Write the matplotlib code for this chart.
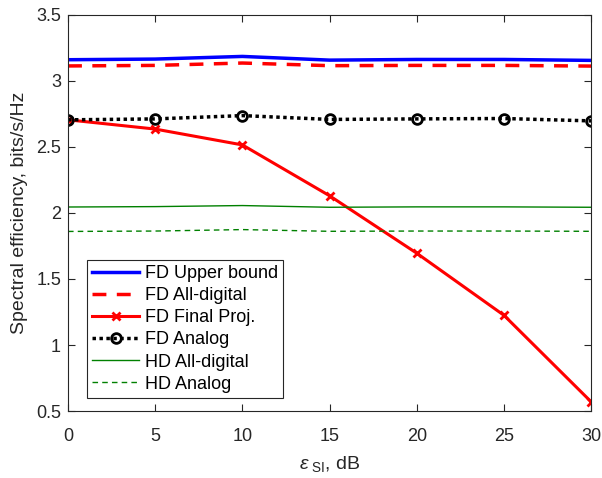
import matplotlib.pyplot as plt

plt.rcParams['font.family'] = ['Liberation Sans', 'DejaVu Sans']
plt.rcParams['mathtext.fontset'] = 'custom'
plt.rcParams['mathtext.rm'] = 'Liberation Sans'
plt.rcParams['mathtext.it'] = 'Liberation Sans:italic'

eps_si = [0, 5, 10, 15, 20, 25, 30]
fd_upper = [3.16, 3.165, 3.185, 3.157, 3.162, 3.162, 3.155]
fd_digital = [3.113, 3.117, 3.135, 3.115, 3.117, 3.117, 3.112]
fd_final = [2.705, 2.635, 2.515, 2.13, 1.695, 1.225, 0.57]
fd_analog = [2.705, 2.712, 2.737, 2.708, 2.712, 2.715, 2.697]
hd_digital = [2.045, 2.048, 2.056, 2.043, 2.046, 2.046, 2.043]
hd_analog = [1.86, 1.863, 1.874, 1.861, 1.863, 1.863, 1.861]

fig = plt.figure(figsize=(6.02, 4.78), dpi=100)
ax = fig.add_axes([0.113, 0.140, 0.869, 0.829])

ax.plot(eps_si, fd_upper, color='b', lw=2.5, label='FD Upper bound')
ax.plot(eps_si, fd_digital, color='r', lw=2.5, ls=(0, (4, 3)), label='FD All-digital')
ax.plot(eps_si, fd_final, color='r', lw=2.2, marker='x', ms=6, mew=2, label='FD Final Proj.')
ax.plot(eps_si, fd_analog, color='k', lw=2.5, ls=(0, (1, 1)), marker='o', ms=7,
        mfc='none', mew=2, label='FD Analog')
ax.plot(eps_si, hd_digital, color='g', lw=1, label='HD All-digital')
ax.plot(eps_si, hd_analog, color='g', lw=1, ls=(0, (4, 3)), label='HD Analog')

ax.set_xlim(0, 30)
ax.set_ylim(0.5, 3.5)
ax.set_xticks(eps_si)
ax.set_yticks([0.5, 1, 1.5, 2, 2.5, 3, 3.5])
ax.set_yticklabels(['0.5', '1', '1.5', '2', '2.5', '3', '3.5'])
ax.tick_params(direction='in', top=True, right=True, labelsize=13, colors='#262626', length=5)
ax.tick_params(axis='x', pad=12)
ax.tick_params(axis='y', pad=5)
for s in ax.spines.values():
    s.set_color('#262626')
    s.set_linewidth(0.8)

ax.set_xlabel(r'$\epsilon_{\ \mathrm{SI}}$, dB', fontsize=14, color='#262626', labelpad=7)
ax.set_ylabel('Spectral efficiency, bits/s/Hz', fontsize=14, color='#262626', labelpad=6)

leg = ax.legend(loc='lower left', bbox_to_anchor=(0.036, 0.033), fontsize=13,
                fancybox=False, framealpha=1, edgecolor='#262626',
                handlelength=2.6, borderpad=0.3, labelspacing=0.28, handletextpad=0.3,
                borderaxespad=0)
leg.get_frame().set_linewidth(0.8)

fig.savefig('out.png', dpi=100)
